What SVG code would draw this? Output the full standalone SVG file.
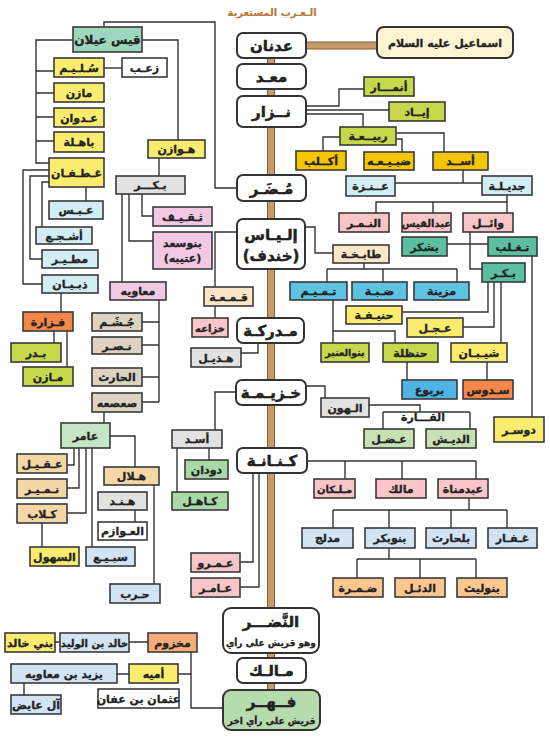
<svg xmlns="http://www.w3.org/2000/svg" width="550" height="744" viewBox="0 0 550 744">
<style>
text{font-family:"DejaVu Sans","Noto Sans",sans-serif;font-weight:bold;fill:#222;text-anchor:middle;stroke:#222;stroke-width:0.3}
.s{font-size:11px}
.mn{font-size:15px;stroke-width:0.5}
.n rect{stroke:#3a3a3a;stroke-width:1.6}
.m rect{stroke:#333;stroke-width:2;fill:#fff}
.c path{fill:none;stroke:#333;stroke-width:1.4}
.lm{fill:#c6d84c}.am{fill:#f7c400}.yl{fill:#f9ec6e}.lb{fill:#d3edf5}.pk{fill:#f8c5c8}
.tl{fill:#5cbf9f}.mt{fill:#9fd6bf}.cr{fill:#fbe6c8}.sk{fill:#5cc3e0}.bl{fill:#4cb5e6}
.or{fill:#f5874a}.gr{fill:#e2e2e2}.mv{fill:#f2c8e2}.tn{fill:#ddd3c3}.lg{fill:#c5e6c5}
.gn{fill:#a9d9a9}.g2{fill:#c6e2b4}.to{fill:#f3d7a6}.pc{fill:#f9c78f}.b2{fill:#d2e3f4}
.o2{fill:#f7ad78}.wh{fill:#fff}
</style>
<text x="272" y="16" style="font-size:10px;fill:#b8783e;stroke:#b8783e;stroke-width:0.2">الـعـرب المستعربة</text>
<g id="spine">
<rect x="267.5" y="45" width="7" height="655" fill="#c69c6d" stroke="#8a5a30" stroke-width="1"/>
<rect x="306" y="42" width="71" height="7" fill="#c69c6d" stroke="#8a5a30" stroke-width="1"/>
</g>
<g id="connectors" class="c">
<path d="M306,106H339V89H364"/>
<path d="M306,110H389"/>
<path d="M306,114H363V127"/>
<path d="M340,137H323V151"/>
<path d="M396,139H402V152"/>
<path d="M396,133H444V152"/>
<path d="M463,170V183M395,183H482"/>
<path d="M507,195V213M507,202H376V213M433,202V213"/>
<path d="M447,244H488"/>
<path d="M470,232V269H482"/>
<path d="M532,256V417"/>
<path d="M488,282V312H402"/>
<path d="M494,282V327H463"/>
<path d="M501,282V343"/>
<path d="M487,362V380"/>
<path d="M305,227H315V253H333"/>
<path d="M364,263V269M327,269H457M327,269V282M383,269V282M457,269V282"/>
<path d="M333,300V343M333,331H395V343"/>
<path d="M407,362V380"/>
<path d="M104,27V22H215V188H237"/>
<path d="M73,40H36V163H49M36,71H54M36,93H54M36,117H54M36,141H54"/>
<path d="M104,68H122"/>
<path d="M142,40H178V140"/>
<path d="M159,158V176"/>
<path d="M142,194V216H153"/>
<path d="M129,194V241H153"/>
<path d="M122,194V282"/>
<path d="M159,300V402M142,322H159M142,345H159M142,377H159M142,402H159"/>
<path d="M104,412V423"/>
<path d="M74,448V465H67M79,448V488H67M86,448V513H67M92,448V547"/>
<path d="M110,436H135V467"/>
<path d="M154,485V584"/>
<path d="M135,510V522"/>
<path d="M42,523V547"/>
<path d="M49,170H23V284H42M49,176H30V259H42M49,182H42V227M86,187V201"/>
<path d="M61,293V312"/>
<path d="M54,331V343"/>
<path d="M67,331V367"/>
<path d="M237,232H215V287"/>
<path d="M215,306V318"/>
<path d="M258,343V353H241"/>
<path d="M236,392H215V430"/>
<path d="M209,448V460"/>
<path d="M177,448V492"/>
<path d="M306,386H325V398"/>
<path d="M369,405H420V412M383,412H470M383,412V429M470,412V429"/>
<path d="M307,461H476M345,461V479M402,461V479M476,461V479"/>
<path d="M469,498V510M333,510H507M333,510V528M389,510V528M451,510V528M507,510V528"/>
<path d="M389,548V559M357,559H476M357,559V578M420,559V578M476,559V578"/>
<path d="M253,473V562H240M259,473V587H240"/>
<path d="M191,652V708H223M148,642H129M55,642H60"/>
<path d="M178,674H191M117,674H129M24,683V695"/>
</g>
<text x="423" y="421" class="s">القـــارة</text>
<g id="adnan" class="m"><rect x="237" y="33" width="69" height="25" rx="6"/><text class="mn" x="271.5" y="51">عدنان</text></g>
<g id="maad" class="m"><rect x="237" y="64" width="69" height="25" rx="6"/><text class="mn" x="271.5" y="82">معـد</text></g>
<g id="nizar" class="m"><rect x="237" y="96" width="69" height="31" rx="6"/><text class="mn" x="271.5" y="117">نــزار</text></g>
<g id="mudar" class="m"><rect x="237" y="175" width="69" height="26" rx="6"/><text class="mn" x="271.5" y="193.5">مُـضَـر</text></g>
<g id="ilyas" class="m"><rect x="237" y="219" width="68" height="50" rx="6"/><text class="mn" x="271" y="240">إلـيـاس</text><text class="mn" x="271" y="261">(خندف)</text></g>
<g id="mudrika" class="m"><rect x="237" y="318" width="67" height="25" rx="6"/><text class="mn" x="270.5" y="336">مـدركـة</text></g>
<g id="khuzayma" class="m"><rect x="236" y="380" width="70" height="25" rx="6"/><text class="mn" x="271" y="398">خـزيـمـة</text></g>
<g id="kinana" class="m"><rect x="237" y="448" width="70" height="25" rx="6"/><text class="mn" x="272" y="466">كـنـانـة</text></g>
<g id="nadr" class="m"><rect x="223" y="608" width="96" height="45" rx="8"/><text class="mn" x="271" y="627">النَّضـــر</text><text x="271" y="646" style="font-size:9px">وهو قريش على رأي</text></g>
<g id="malik" class="m"><rect x="237" y="658" width="69" height="25" rx="6"/><text class="mn" x="271.5" y="676">مـالـك</text></g>
<g id="fihr" class="m"><rect x="223" y="690" width="97" height="40" rx="8" style="fill:#b6dcae"/><text class="mn" x="271.5" y="707">فــهــر</text><text x="271.5" y="724" style="font-size:9px">قريش على رأي اخر</text></g>
<g id="ismail" class="m"><rect x="377" y="27" width="136" height="31" rx="7" style="fill:#fcf4d2"/><text x="445" y="46.5" style="font-size:11px">اسماعيل عليه السلام</text></g>
<g id="anmar" class="n"><rect class="lm" x="364" y="77" width="50" height="19"/><text class="s" x="389" y="90.5">أنمـــار</text></g>
<g id="iyad" class="n"><rect class="lm" x="389" y="102" width="56" height="19"/><text class="s" x="417" y="115.5">إيــاد</text></g>
<g id="rabia" class="n"><rect class="lm" x="340" y="127" width="56" height="18"/><text class="s" x="368" y="140">ربيــعـة</text></g>
<g id="aklub" class="n"><rect class="am" x="296" y="151" width="50" height="19"/><text class="s" x="321" y="164.5">أكــلب</text></g>
<g id="dubayaa" class="n"><rect class="am" x="364" y="152" width="50" height="18"/><text class="s" x="389" y="165">ضبـيـعـه</text></g>
<g id="asad" class="n"><rect class="am" x="433" y="152" width="55" height="18"/><text class="s" x="460.5" y="165">أســد</text></g>
<g id="anaza" class="n"><rect class="lb" x="346" y="176" width="49" height="20"/><text class="s" x="370.5" y="190">عــنـزة</text></g>
<g id="jadila" class="n"><rect class="lb" x="482" y="176" width="50" height="19"/><text class="s" x="507" y="189.5">جديـلـة</text></g>
<g id="namir" class="n"><rect class="pk" x="339" y="213" width="50" height="19"/><text class="s" x="364" y="226.5">النـمـر</text></g>
<g id="abdqays" class="n"><rect class="pk" x="402" y="213" width="49" height="19"/><text class="s" x="426.5" y="226.5" style="font-size:10px">عبدالقيس</text></g>
<g id="wail" class="n"><rect class="pk" x="463" y="213" width="50" height="19"/><text class="s" x="488" y="226.5">وائــل</text></g>
<g id="bashkur" class="n"><rect class="tl" x="402" y="237" width="45" height="19"/><text class="s" x="424.5" y="250.5">بشكر</text></g>
<g id="taghlib" class="n"><rect class="tl" x="488" y="237" width="49" height="19"/><text class="s" x="512.5" y="250.5">تـغـلب</text></g>
<g id="bakr-r" class="n"><rect class="tl" x="482" y="263" width="43" height="19"/><text class="s" x="503.5" y="276.5">بـكـر</text></g>
<g id="tabikha" class="n"><rect class="cr" x="333" y="245" width="56" height="18"/><text class="s" x="361" y="258">طابـخـة</text></g>
<g id="tamim" class="n"><rect class="sk" x="290" y="282" width="57" height="18"/><text class="s" x="318.5" y="295">تـمـيـم</text></g>
<g id="dabba" class="n"><rect class="sk" x="352" y="282" width="55" height="18"/><text class="s" x="379.5" y="295">ضـبـة</text></g>
<g id="muzayna" class="n"><rect class="sk" x="414" y="282" width="55" height="18"/><text class="s" x="441.5" y="295">مزينة</text></g>
<g id="hanifa" class="n"><rect class="yl" x="346" y="306" width="56" height="18"/><text class="s" x="374" y="319">حنيـفـة</text></g>
<g id="ijl" class="n"><rect class="yl" x="407" y="318" width="56" height="19"/><text class="s" x="435" y="331.5">عـجـل</text></g>
<g id="anbar" class="n"><rect class="lm" x="321" y="343" width="48" height="19"/><text class="s" x="345" y="356" style="font-size:9.5px">بنوالعنبر</text></g>
<g id="hanzala" class="n"><rect class="lm" x="383" y="343" width="55" height="19"/><text class="s" x="410.5" y="356.5">حنظلة</text></g>
<g id="shayban" class="n"><rect class="yl" x="451" y="343" width="56" height="19"/><text class="s" x="479" y="356.5">شيـبـان</text></g>
<g id="yarbu" class="n"><rect class="bl" x="402" y="380" width="55" height="19"/><text class="s" x="429.5" y="393.5">بربوع</text></g>
<g id="sadus" class="n"><rect class="or" x="463" y="380" width="50" height="19"/><text class="s" x="488" y="393.5">سـدوس</text></g>
<g id="dawsar" class="n"><rect class="yl" x="494" y="417" width="50" height="25"/><text class="s" x="519" y="433.5">دوسـر</text></g>
<g id="hun" class="n"><rect class="gr" x="321" y="398" width="48" height="19"/><text class="s" x="345" y="411.5">الـهون</text></g>
<g id="adal" class="n"><rect class="g2" x="364" y="429" width="50" height="19"/><text class="s" x="389" y="442.5">عـضـل</text></g>
<g id="dish" class="n"><rect class="g2" x="426" y="429" width="50" height="19"/><text class="s" x="451" y="442.5">الديـش</text></g>
<g id="milkan" class="n"><rect class="pk" x="314" y="479" width="41" height="19"/><text class="s" x="334.5" y="492.5" style="font-size:10px">مـلـكان</text></g>
<g id="malik2" class="n"><rect class="pk" x="376" y="479" width="50" height="19"/><text class="s" x="401" y="492.5">مالك</text></g>
<g id="abdmanat" class="n"><rect class="pk" x="438" y="479" width="50" height="19"/><text class="s" x="463" y="492.5">عبدمناة</text></g>
<g id="mudlij" class="n"><rect class="b2" x="302" y="528" width="51" height="20"/><text class="s" x="327.5" y="542">مدلج</text></g>
<g id="banubakr" class="n"><rect class="b2" x="365" y="528" width="50" height="20"/><text class="s" x="390" y="542">بنوبكر</text></g>
<g id="balharith" class="n"><rect class="b2" x="426" y="528" width="50" height="20"/><text class="s" x="451" y="542">بلحارث</text></g>
<g id="ghifar" class="n"><rect class="b2" x="488" y="528" width="49" height="20"/><text class="s" x="512.5" y="542">غـفـار</text></g>
<g id="damra" class="n"><rect class="pc" x="333" y="578" width="50" height="19"/><text class="s" x="358" y="591.5">ضـمـرة</text></g>
<g id="duil" class="n"><rect class="pc" x="395" y="578" width="50" height="19"/><text class="s" x="420" y="591.5">الدئـل</text></g>
<g id="banulayth" class="n"><rect class="pc" x="457" y="578" width="50" height="19"/><text class="s" x="482" y="591.5">بنوليث</text></g>
<g id="qamaa" class="n"><rect class="cr" x="204" y="287" width="49" height="19"/><text class="s" x="228.5" y="300.5">قـمـعـة</text></g>
<g id="khuzaa" class="n"><rect class="pk" x="192" y="318" width="36" height="19"/><text class="s" x="210" y="331.5" style="font-size:10px">خزاعه</text></g>
<g id="hudhayl" class="n"><rect class="gr" x="191" y="348" width="50" height="19"/><text class="s" x="216" y="361.5">هـذيـل</text></g>
<g id="asad2" class="n"><rect class="gr" x="172" y="430" width="50" height="18"/><text class="s" x="197" y="443">أسـد</text></g>
<g id="dudan" class="n"><rect class="gn" x="185" y="460" width="43" height="19"/><text class="s" x="206.5" y="473.5">دودان</text></g>
<g id="kahil" class="n"><rect class="gn" x="172" y="492" width="56" height="18"/><text class="s" x="200" y="505">كـاهـل</text></g>
<g id="amr" class="n"><rect class="pk" x="191" y="553" width="49" height="19"/><text class="s" x="215.5" y="566.5">عـمـرو</text></g>
<g id="amir2" class="n"><rect class="pk" x="191" y="578" width="49" height="19"/><text class="s" x="215.5" y="591.5">عـامـر</text></g>
<g id="qays" class="n"><rect class="mt" x="73" y="27" width="69" height="25"/><text class="s" x="107.5" y="44" style="font-size:12px">قيس عيلان</text></g>
<g id="sulaym" class="n"><rect class="yl" x="54" y="58" width="50" height="19"/><text class="s" x="79" y="71.5">سُـلـيـم</text></g>
<g id="zaab" class="n"><rect class="wh" x="122" y="58" width="45" height="19"/><text class="s" x="144.5" y="71.5">زعـب</text></g>
<g id="mazin" class="n"><rect class="yl" x="54" y="83" width="50" height="19"/><text class="s" x="79" y="96.5">مازن</text></g>
<g id="adwan" class="n"><rect class="yl" x="54" y="108" width="50" height="19"/><text class="s" x="79" y="121.5">عـدوان</text></g>
<g id="bahila" class="n"><rect class="yl" x="54" y="132" width="50" height="20"/><text class="s" x="79" y="146">باهـلة</text></g>
<g id="ghatafan" class="n"><rect class="yl" x="49" y="158" width="55" height="29"/><text class="s" x="76.5" y="176.5">غـطـفـان</text></g>
<g id="hawazin" class="n"><rect class="yl" x="148" y="140" width="57" height="18"/><text class="s" x="176.5" y="153">هـوازن</text></g>
<g id="bakr-l" class="n"><rect class="gr" x="116" y="176" width="69" height="18"/><text class="s" x="150.5" y="189">بـكـــر</text></g>
<g id="thaqif" class="n"><rect class="mv" x="153" y="207" width="59" height="19"/><text class="s" x="182.5" y="220.5">ثـقـيـف</text></g>
<g id="banusad" class="n"><rect class="mv" x="153" y="232" width="59" height="37"/><text class="s" x="182.5" y="247">بنوسعد</text><text class="s" x="182.5" y="262">(عتيبه)</text></g>
<g id="muawiya" class="n"><rect class="mv" x="110" y="282" width="56" height="18"/><text class="s" x="138" y="295">معاويه</text></g>
<g id="abs" class="n"><rect class="lb" x="49" y="201" width="54" height="18"/><text class="s" x="76" y="214">عـبـس</text></g>
<g id="ashja" class="n"><rect class="lb" x="36" y="227" width="56" height="17"/><text class="s" x="64" y="239.5">أشـجـع</text></g>
<g id="mutayr" class="n"><rect class="lb" x="42" y="250" width="56" height="18"/><text class="s" x="70" y="263">مطـيـر</text></g>
<g id="dhubyan" class="n"><rect class="lb" x="42" y="275" width="56" height="18"/><text class="s" x="70" y="288">ذبـيـان</text></g>
<g id="fazara" class="n"><rect class="or" x="23" y="312" width="50" height="19"/><text class="s" x="48" y="325.5">فـزارة</text></g>
<g id="badr" class="n"><rect class="lm" x="11" y="343" width="50" height="19"/><text class="s" x="36" y="356.5">بـدر</text></g>
<g id="mazin2" class="n"><rect class="lm" x="23" y="367" width="50" height="19"/><text class="s" x="48" y="380.5">مـازن</text></g>
<g id="jusham" class="n"><rect class="tn" x="92" y="313" width="50" height="18"/><text class="s" x="117" y="326">جُـشَـم</text></g>
<g id="nasr" class="n"><rect class="tn" x="92" y="337" width="50" height="17"/><text class="s" x="117" y="349.5">نـصـر</text></g>
<g id="harith" class="n"><rect class="tn" x="92" y="368" width="50" height="18"/><text class="s" x="117" y="381">الحارث</text></g>
<g id="sasaa" class="n"><rect class="tn" x="92" y="393" width="50" height="19"/><text class="s" x="117" y="406.5">صعصعه</text></g>
<g id="amir" class="n"><rect class="lg" x="61" y="423" width="49" height="25"/><text class="s" x="85.5" y="439.5">عامر</text></g>
<g id="aqil" class="n"><rect class="to" x="17" y="454" width="50" height="19"/><text class="s" x="42" y="467.5">عـقـيـل</text></g>
<g id="numayr" class="n"><rect class="to" x="17" y="479" width="50" height="19"/><text class="s" x="42" y="492.5">نـمـيـر</text></g>
<g id="kilab" class="n"><rect class="to" x="17" y="504" width="50" height="19"/><text class="s" x="42" y="517.5">كـلاب</text></g>
<g id="hilal" class="n"><rect class="to" x="104" y="467" width="55" height="18"/><text class="s" x="131.5" y="480">هـلال</text></g>
<g id="hind" class="n"><rect class="gr" x="98" y="492" width="49" height="18"/><text class="s" x="122.5" y="505">هـنـد</text></g>
<g id="awazim" class="n"><rect class="wh" x="98" y="522" width="49" height="18"/><text class="s" x="122.5" y="535">العـوازم</text></g>
<g id="suhul" class="n"><rect class="yl" x="30" y="547" width="49" height="19"/><text class="s" x="54.5" y="560.5">السهول</text></g>
<g id="subay" class="n"><rect class="b2" x="86" y="547" width="49" height="19"/><text class="s" x="110.5" y="560.5">سبـيـع</text></g>
<g id="harb" class="n"><rect class="b2" x="110" y="584" width="50" height="19"/><text class="s" x="135" y="597.5">حـرب</text></g>
<g id="makhzum" class="n"><rect class="o2" x="148" y="633" width="49" height="19"/><text class="s" x="172.5" y="646.5">مخزوم</text></g>
<g id="khalid" class="n"><rect class="b2" x="60" y="633" width="69" height="19"/><text class="s" x="94.5" y="646.5" style="font-size:10px">خالد بن الوليد</text></g>
<g id="banikhalid" class="n"><rect class="yl" x="5" y="633" width="50" height="19"/><text class="s" x="30" y="646.5">بني خالد</text></g>
<g id="umayya" class="n"><rect class="yl" x="129" y="664" width="49" height="19"/><text class="s" x="153.5" y="677.5">أميه</text></g>
<g id="yazid" class="n"><rect class="b2" x="11" y="664" width="106" height="19"/><text class="s" x="64" y="677.5">يزيد بن معاويه</text></g>
<g id="uthman" class="n"><rect class="wh" x="98" y="689" width="81" height="19"/><text class="s" x="138.5" y="702.5">عثمان بن عفان</text></g>
<g id="aiad" class="n"><rect class="b2" x="11" y="695" width="50" height="19"/><text class="s" x="36" y="708.5">آل عايض</text></g>
</svg>
